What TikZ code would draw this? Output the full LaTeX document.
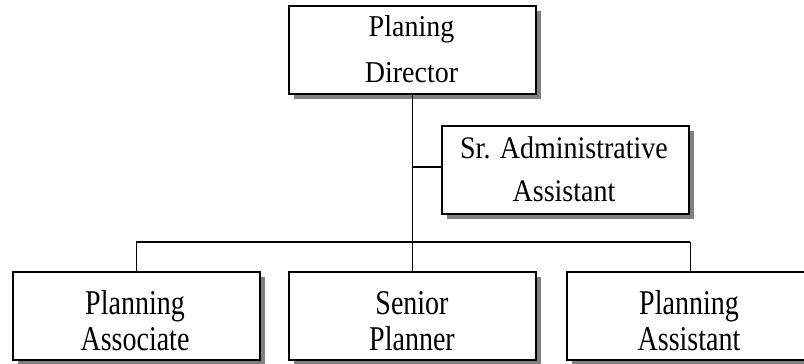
\documentclass[tikz,border=0pt]{standalone}
\usepackage{fontspec}
\setmainfont{Liberation Serif}
\usetikzlibrary{shadows}
\newcommand{\boxtext}[3]{\scalebox{1}[#1]{\fontsize{28}{#2}\selectfont\begin{tabular}{@{}c@{}}#3\end{tabular}}}
\begin{document}
\begin{tikzpicture}[x=1pt,y=-1pt,
  orgbox/.style={draw=black, line width=1.8pt, fill=white, minimum width=247pt, minimum height=88pt,
    inner sep=0pt, anchor=north west,
    drop shadow={shadow xshift=5pt, shadow yshift=-5.5pt, fill=black!50, opacity=1}},
  boxlabel/.style={inner sep=0pt, anchor=center},
  trunk/.style={line width=1.5pt},
  branch/.style={line width=1.3pt},
  busline/.style={line width=1.1pt}]
\useasboundingbox (0,0) rectangle (804,364);
% boxes
\node[orgbox] (dir) at (288,5) {};
\node[orgbox] (sr) at (441,125) {};
\node[orgbox] (assoc) at (12,271) {};
\node[orgbox] (sen) at (288,271) {};
\node[orgbox] (asst) at (566,271) {};
% labels
\node[boxlabel] (dirT) at (411.5,50.5) {\boxtext{1.08}{41.7}{Planing\\Director}};
\node[boxlabel] (srT) at (564,171) {\boxtext{1.12}{38.4}{Sr. Administrative\\Assistant}};
\node[boxlabel] (assocT) at (135,325) {\boxtext{1.24}{29}{Planning\\Associate}};
\node[boxlabel] (senT) at (412,325) {\boxtext{1.24}{29}{Senior\\Planner}};
\node[boxlabel] (asstT) at (689,325) {\boxtext{1.24}{29}{Planning\\Assistant}};
% connectors
\coordinate (busy) at (0,242);
\coordinate (sry) at (0,167);
\begin{scope}[on background layer/.try]
\end{scope}
\draw[trunk] (dir.south) -- (sen.north);
\draw[branch] (sr.west |- sry) -- (dir.south |- sry);
\draw[busline] (assoc.north |- busy) -- (asst.north |- busy);
\draw[branch] (assoc.north |- busy) -- (assoc.north);
\draw[branch] (asst.north |- busy) -- (asst.north);
\end{tikzpicture}
\end{document}
